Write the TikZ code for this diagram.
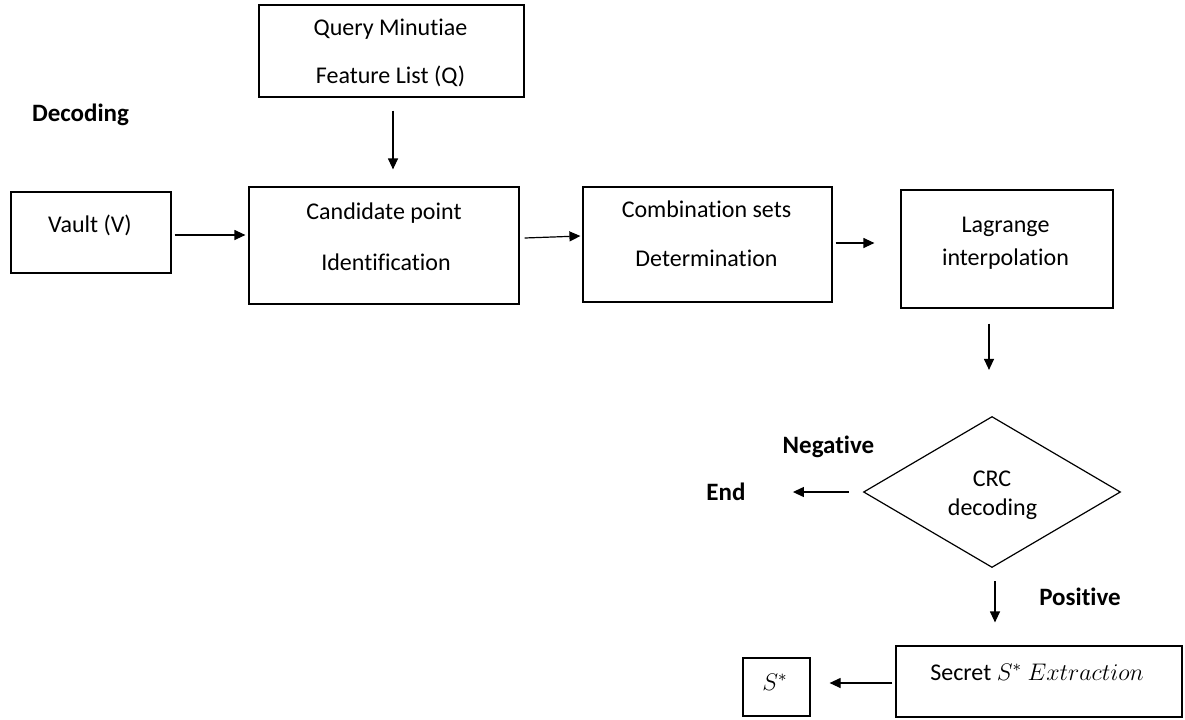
\documentclass[tikz,border=0pt]{standalone}
\usepackage{fontspec}
\setmainfont{Carlito}[Ligatures={NoCommon}]
\usetikzlibrary{arrows.meta,shapes.geometric}
\begin{document}
\begin{tikzpicture}[x=0.5pt,y=-0.5pt,
  box/.style={draw, line width=0.6pt, inner sep=0pt},
  txt/.style={inner sep=0pt, anchor=base, font=\fontsize{12pt}{14pt}\selectfont},
  tag/.style={inner sep=0pt, anchor=base, font=\fontsize{12.5pt}{15pt}\selectfont\bfseries},
  arr/.style={line width=0.6pt, -{Triangle[length=5.5pt,width=5pt]}}]
\useasboundingbox (0,0) rectangle (1185,719);

% process boxes
\node[box, minimum width=132.5pt, minimum height=46pt]   (query)  at (391.5,51)   {};
\node[box, minimum width=80pt,    minimum height=40.5pt] (vault)  at (91,232.5)   {};
\node[box, minimum width=135pt,   minimum height=58.5pt] (cand)   at (384,245.5)  {};
\node[box, minimum width=124.5pt, minimum height=57.5pt] (comb)   at (707.5,244.5){};
\node[box, minimum width=106pt,   minimum height=59pt]   (lag)    at (1007,249)   {};
\node[box, diamond, minimum width=128.5pt, minimum height=75.5pt] (crc) at (992,492) {};
\node[box, minimum width=143pt,   minimum height=35.5pt] (secret) at (1039,681.5) {};
\node[box, minimum width=33.5pt,  minimum height=29pt]   (sstar)  at (776.5,687)  {};

% texts inside the boxes
\node[txt] (tq1) at (390.5,35)  {Query Minutiae};
\node[txt] (tq2) at (390.5,83)  {Feature List (Q)};
\node[txt] (tv)  at (90,232)    {Vault (V)};
\node[txt] (tc1) at (384,219)   {Candidate point};
\node[txt] (tc2) at (386,270)   {Identification};
\node[txt] (tm1) at (706.5,217) {Combination sets};
\node[txt] (tm2) at (706.5,266) {Determination};
\node[txt] (tl1) at (1005.5,232){Lagrange};
\node[txt] (tl2) at (1005.5,265){interpolation};
\node[txt] (tr1) at (992,486)   {CRC};
\node[txt] (tr2) at (992.5,515) {decoding};
\node[txt] (ts)  at (1037,680)  {Secret $S^{*}$ $Extraction$};
\node[txt] (tss) at (775,690)   {$S^{*}$};

% free labels
\node[tag] (dec) at (80.5,121)  {Decoding};
\node[tag] (neg) at (828.5,453) {Negative};
\node[tag] (end) at (726,500)   {End};
\node[tag] (pos) at (1080,605)  {Positive};

% connectors
\draw[arr] ([shift={(0.75pt,-6.5pt)}]query.south) -- ([shift={(4.5pt,8.5pt)}]cand.north);
\draw[arr] ([shift={(1.5pt,-1.25pt)}]vault.east) -- ([shift={(-1.5pt,5.25pt)}]cand.west);
\draw[arr] ([shift={(2.5pt,3.75pt)}]cand.east) -- ([shift={(-1pt,4.25pt)}]comb.west);
\draw[arr] ([shift={(1.5pt,0.75pt)}]comb.east) -- ([shift={(-13pt,3pt)}]lag.west);
\draw[arr] ([shift={(-9pt,-7.5pt)}]lag.south) -- ([shift={(-1.5pt,23pt)}]crc.north);
\draw[arr] ([shift={(-7pt,0pt)}]crc.west) -- ([shift={(23.5pt,0pt)}]crc.west -| end.east);
\draw[arr] ([shift={(1.5pt,-6.5pt)}]crc.south) -- ([shift={(-22pt,11.5pt)}]secret.north);
\draw[arr] ([shift={(-1.5pt,-0.75pt)}]secret.west) -- ([shift={(9.5pt,2pt)}]sstar.east);
\end{tikzpicture}
\end{document}
